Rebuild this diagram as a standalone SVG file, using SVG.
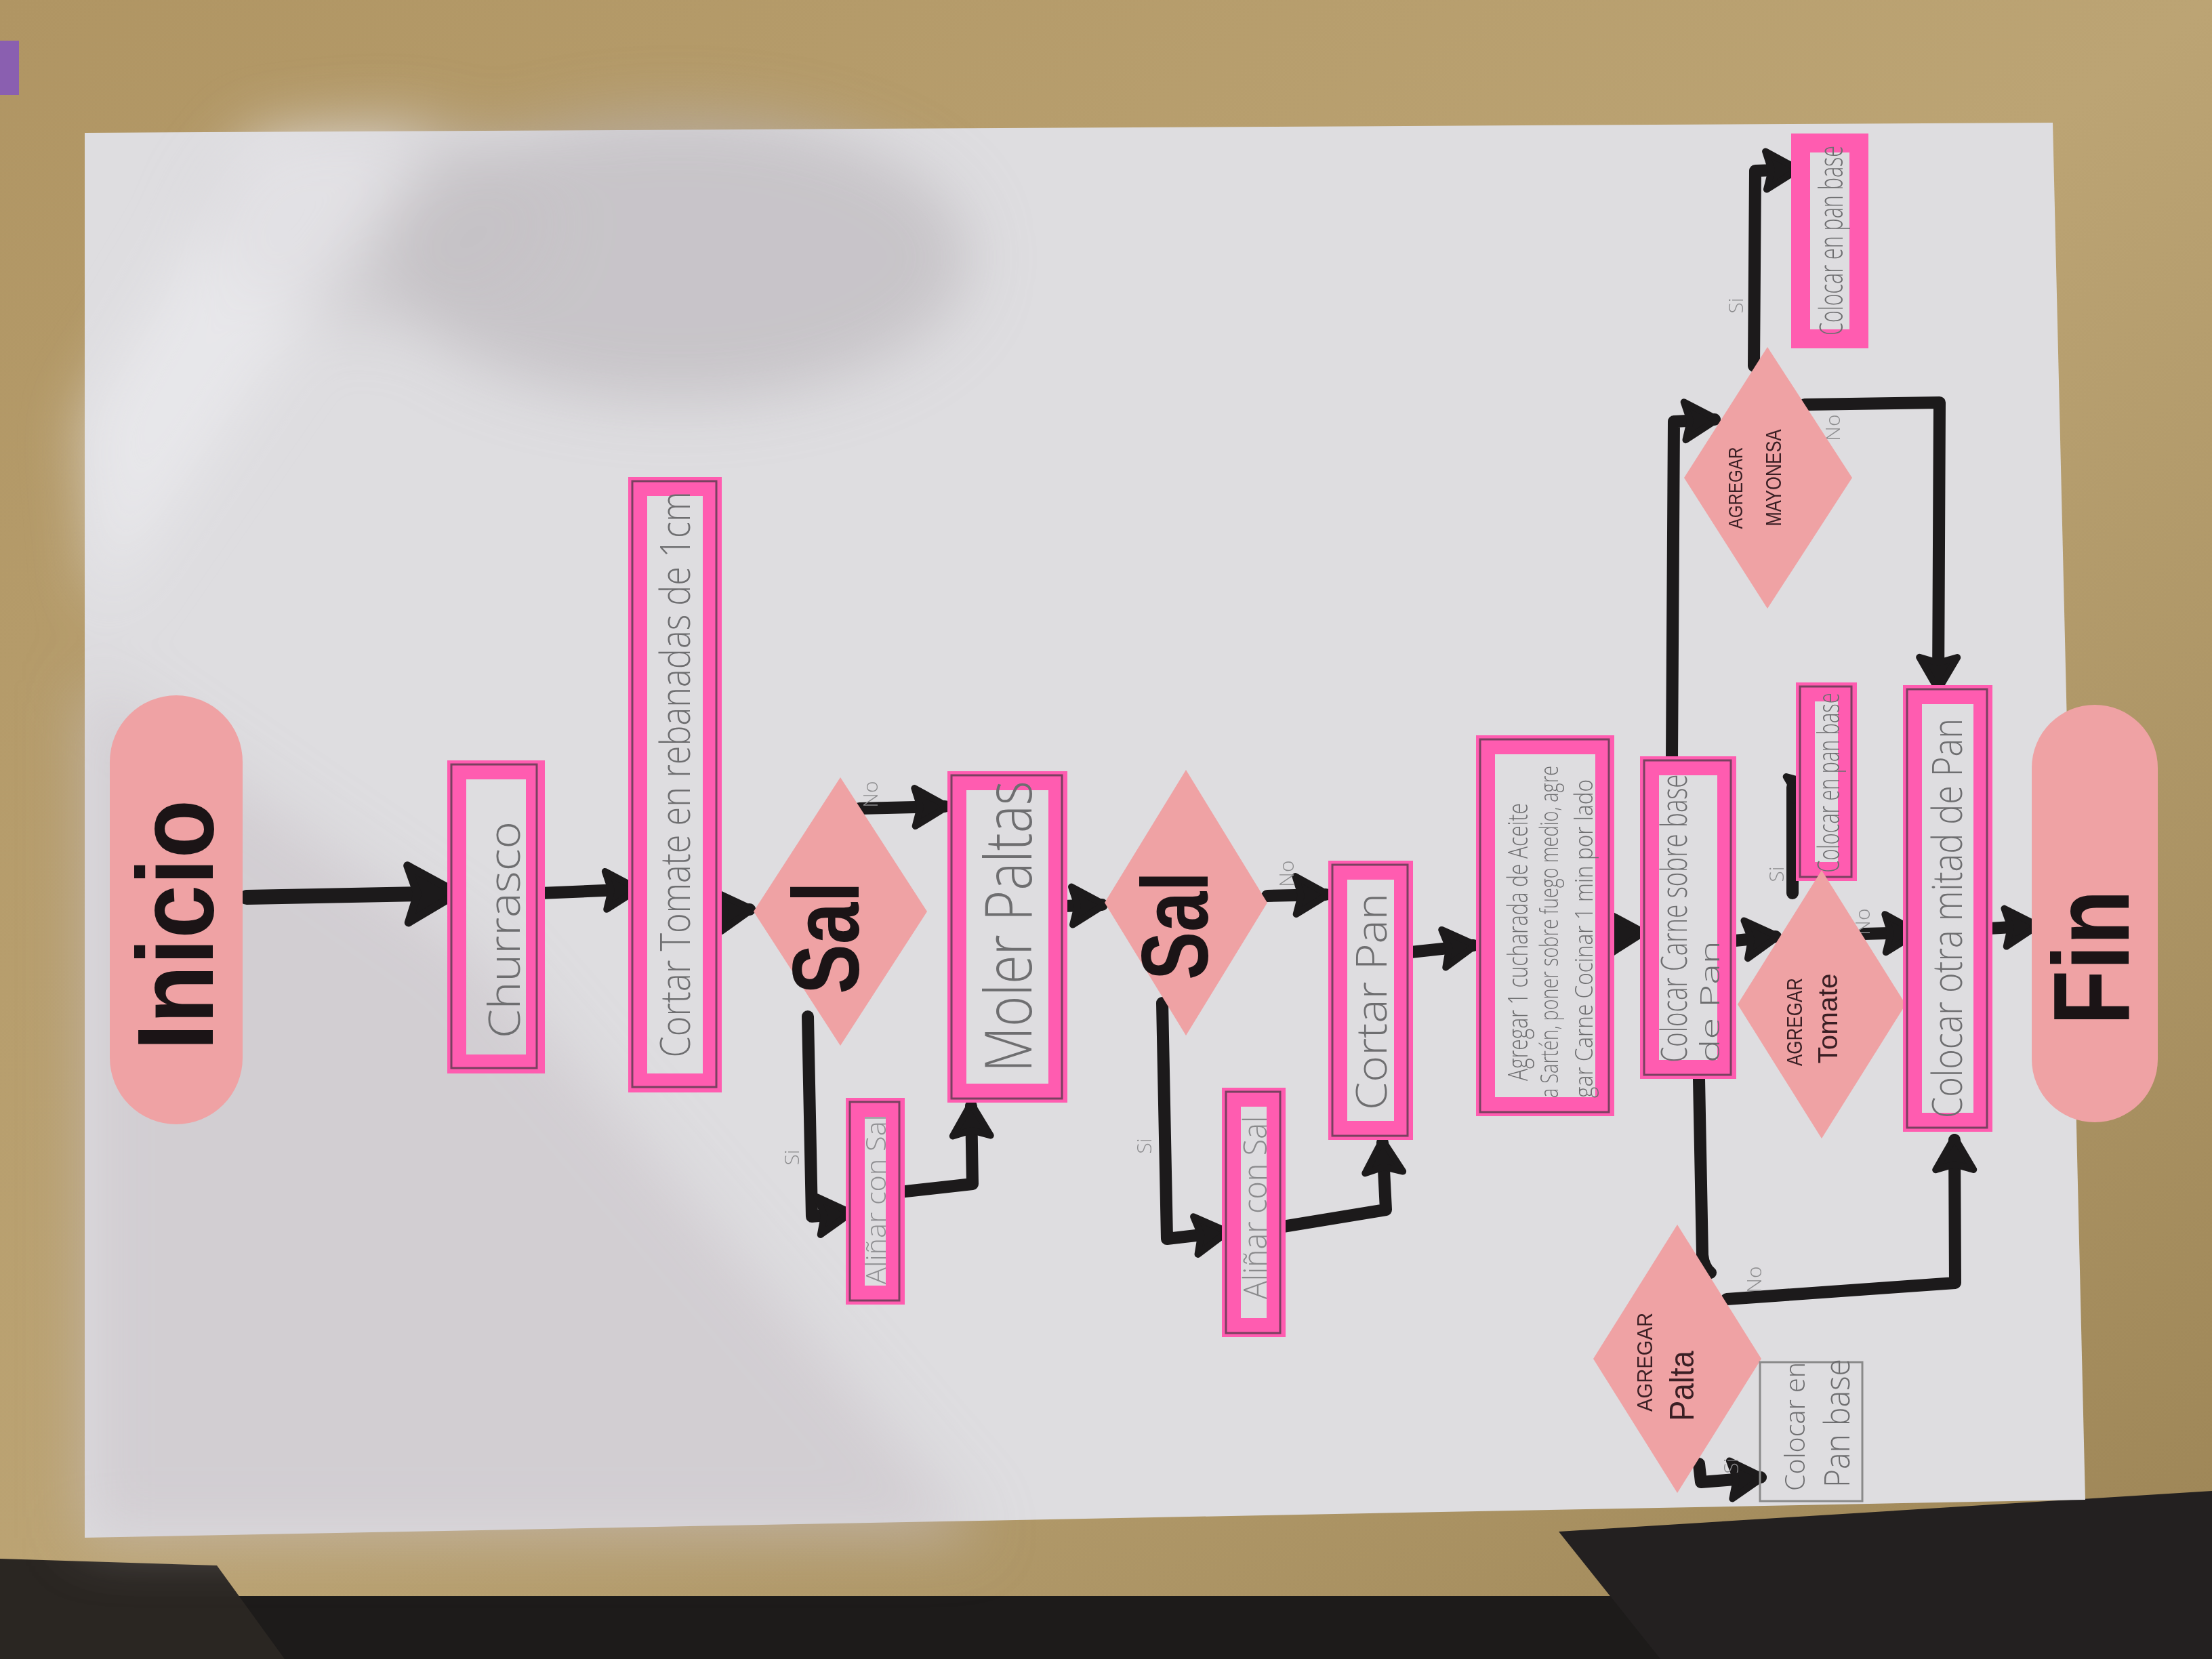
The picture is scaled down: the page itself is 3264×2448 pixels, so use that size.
<svg xmlns="http://www.w3.org/2000/svg" width="3264" height="2448" viewBox="0 0 3264 2448">
<defs>
<style>
.hl{fill:none;stroke:#ff5cb0;stroke-width:28;stroke-linejoin:miter}
.pen{fill:none;stroke:#7a4060;stroke-width:3}
.pbox{fill:none;stroke:#8a8a8a;stroke-width:3}
.pink{fill:#efa2a4}
.pt{font-family:"Open Sans","Liberation Sans",sans-serif;font-weight:300;fill:#6e6e70;text-anchor:middle;dominant-baseline:central}
.mk{font-family:"Liberation Sans",Arial,sans-serif;fill:#3a1f24;text-anchor:middle;dominant-baseline:central}
.big{font-family:"Liberation Sans",Arial,sans-serif;font-weight:bold;fill:#1b1416;text-anchor:middle;dominant-baseline:central}
.lbl{font-family:"Open Sans","Liberation Sans",sans-serif;font-weight:300;font-size:30px;fill:#8c8c8e;text-anchor:middle;dominant-baseline:central}
.c{fill:none;stroke:#1c1a1b;stroke-width:18;stroke-linecap:round;stroke-linejoin:round}
</style>
<marker id="ah" markerUnits="userSpaceOnUse" viewBox="-60 -40 70 80" markerWidth="70" markerHeight="80" refX="0" refY="0" orient="auto">
<path d="M4,0 L-44,-28 L-36,0 L-44,28 Z" fill="#1c1a1b" stroke="#1c1a1b" stroke-width="10" stroke-linejoin="round"/>
</marker>
<marker id="ahb" markerUnits="userSpaceOnUse" viewBox="-90 -60 100 120" markerWidth="100" markerHeight="120" refX="0" refY="0" orient="auto">
<path d="M4,0 L-70,-42 L-56,0 L-70,42 Z" fill="#1c1a1b" stroke="#1c1a1b" stroke-width="12" stroke-linejoin="round"/>
</marker>
<marker id="ahs" markerUnits="userSpaceOnUse" viewBox="-40 -30 50 60" markerWidth="50" markerHeight="60" refX="0" refY="0" orient="auto">
<path d="M4,0 L-24,-18 L-20,0 L-24,18 Z" fill="#1c1a1b" stroke="#1c1a1b" stroke-width="10" stroke-linejoin="round"/>
</marker>
<filter id="blur" x="-50%" y="-50%" width="200%" height="200%"><feGaussianBlur stdDeviation="45"/></filter>
<linearGradient id="wood" x1="0" y1="0" x2="1" y2="1">
<stop offset="0" stop-color="#b09563"/>
<stop offset="0.5" stop-color="#bca474"/>
<stop offset="1" stop-color="#9c8455"/>
</linearGradient>
</defs>

<!-- table background -->
<rect x="0" y="0" width="3264" height="2448" fill="url(#wood)"/>
<rect x="0" y="2355" width="3264" height="93" fill="#1d1b1a"/>
<polygon points="0,2300 320,2310 420,2448 0,2448" fill="#2a2622"/>
<polygon points="2300,2260 3264,2200 3264,2448 2450,2448" fill="#232020"/>
<rect x="0" y="60" width="28" height="80" fill="#8a5fb0"/>

<!-- paper -->
<polygon points="125,196 3029,181 3077,2213 125,2269" fill="#dedde0"/>
<g filter="url(#blur)">
<ellipse cx="1000" cy="380" rx="430" ry="210" fill="#b9b4b9" opacity="0.6"/>
<ellipse cx="560" cy="330" rx="260" ry="150" fill="#c3bfc3" opacity="0.5"/>
<polygon points="125,1000 700,1400 1450,2269 125,2269" fill="#c8c1c6" opacity="0.55"/>
<polygon points="380,196 640,196 150,900 125,620" fill="#efeff1" opacity="0.6"/>
</g>

<!-- connectors -->
<g id="connectors">
<path class="c" d="M364,1324 L672,1318" marker-end="url(#ahb)" style="stroke-width:22"/>
<path class="c" d="M797,1318 L938,1312" marker-end="url(#ah)"/>
<path class="c" d="M1062,1346 L1106,1342" marker-end="url(#ah)"/>
<path class="c" d="M1268,1193 L1394,1190" marker-end="url(#ah)"/>
<path class="c" d="M1192,1500 L1198,1795 L1252,1790" marker-end="url(#ah)"/>
<path class="c" d="M1318,1760 L1435,1747 L1433,1632" marker-end="url(#ah)"/>
<path class="c" d="M1570,1337 L1626,1335" marker-end="url(#ah)"/>
<path class="c" d="M1870,1322 L1956,1320" marker-end="url(#ah)"/>
<path class="c" d="M1715,1480 L1722,1828 L1808,1818" marker-end="url(#ah)"/>
<path class="c" d="M1893,1810 L2045,1785 L2040,1686" marker-end="url(#ah)"/>
<path class="c" d="M2082,1405 L2174,1395" marker-end="url(#ah)"/>
<path class="c" d="M2370,1378 L2422,1376" marker-end="url(#ah)"/>
<path class="c" d="M2560,1388 L2620,1382" marker-end="url(#ah)"/>
<path class="c" d="M2645,1318 L2645,1162 L2664,1156" marker-end="url(#ahs)"/>
<path class="c" d="M2750,1378 L2826,1376" marker-end="url(#ah)"/>
<path class="c" d="M2467,1118 L2470,622 L2530,619" marker-end="url(#ah)"/>
<path class="c" d="M2588,540 L2590,252 L2650,250" marker-end="url(#ah)"/>
<path class="c" d="M2663,597 L2862,594 L2860,1014" marker-end="url(#ah)"/>
<path class="c" d="M2507,1592 L2512,1852 Q2514,1870 2524,1878"/>
<path class="c" d="M2548,1917 L2885,1893 L2884,1682" marker-end="url(#ah)"/>
<path class="c" d="M2507,2160 L2510,2187 L2598,2180" marker-end="url(#ah)"/>
<path class="c" d="M2935,1370 L3003,1366" marker-end="url(#ah)"/>
</g>

<!-- labels -->
<g id="labels">
<text class="lbl" transform="rotate(-90 1283 1172)" x="1283" y="1172">No</text>
<text class="lbl" transform="rotate(-90 1167 1708)" x="1167" y="1708">Si</text>
<text class="lbl" transform="rotate(-90 1897 1289)" x="1897" y="1289">No</text>
<text class="lbl" transform="rotate(-90 1687 1691)" x="1687" y="1691">Si</text>
<text class="lbl" transform="rotate(-90 2620 1290)" x="2620" y="1290">Si</text>
<text class="lbl" transform="rotate(-90 2747 1360)" x="2747" y="1360">No</text>
<text class="lbl" transform="rotate(-90 2560 451)" x="2560" y="451">Si</text>
<text class="lbl" transform="rotate(-90 2703 631)" x="2703" y="631">No</text>
<text class="lbl" transform="rotate(-90 2587 1888)" x="2587" y="1888">No</text>
<text class="lbl" transform="rotate(-90 2553 2163)" x="2553" y="2163">Si</text>
</g>

<!-- nodes -->
<g id="inicio">
<rect class="pink" x="162" y="1026" width="196" height="633" rx="98" ry="98"/>
<text class="big" font-size="160" textLength="370" lengthAdjust="spacingAndGlyphs" transform="rotate(-90 258 1365)" x="258" y="1365">Inicio</text>
</g>

<g id="churrasco">
<rect class="hl" x="674" y="1136" width="116" height="434"/>
<rect class="pen" x="666" y="1128" width="126" height="448"/>
<text class="pt" font-size="64" textLength="320" lengthAdjust="spacingAndGlyphs" transform="rotate(-90 742 1372)" x="742" y="1372">Churrasco</text>
</g>

<g id="cortar-tomate">
<rect class="hl" x="941" y="718" width="110" height="880"/>
<rect class="pen" x="933" y="710" width="124" height="894"/>
<text class="pt" font-size="60" textLength="835" lengthAdjust="spacingAndGlyphs" transform="rotate(-90 995 1143)" x="995" y="1143">Cortar Tomate en rebanadas de 1cm</text>
</g>

<g id="sal-1">
<polygon class="pink" points="1240,1147 1368,1345 1240,1543 1112,1345"/>
<text class="big" font-size="140" textLength="166" lengthAdjust="spacingAndGlyphs" transform="rotate(-90 1218 1384)" x="1218" y="1384">Sal</text>
</g>

<g id="alinar-1">
<rect class="hl" x="1262" y="1634" width="59" height="277"/>
<rect class="pen" x="1254" y="1626" width="73" height="293"/>
<text class="pt" font-size="40" textLength="250" lengthAdjust="spacingAndGlyphs" transform="rotate(-90 1291 1770)" x="1291" y="1770" fill-opacity="0.7">Aliñar con Sal</text>
</g>

<g id="moler-paltas">
<rect class="hl" x="1412" y="1152" width="149" height="461"/>
<rect class="pen" x="1404" y="1144" width="163" height="477"/>
<text class="pt" font-size="95" textLength="430" lengthAdjust="spacingAndGlyphs" transform="rotate(-90 1485 1367)" x="1485" y="1367">Moler Paltas</text>
</g>

<g id="sal-2">
<polygon class="pink" points="1750,1136 1870,1332 1750,1528 1630,1332"/>
<text class="big" font-size="140" textLength="160" lengthAdjust="spacingAndGlyphs" transform="rotate(-90 1733 1366)" x="1733" y="1366">Sal</text>
</g>

<g id="alinar-2">
<rect class="hl" x="1817" y="1619" width="66" height="340"/>
<rect class="pen" x="1809" y="1611" width="80" height="356"/>
<text class="pt" font-size="48" textLength="270" lengthAdjust="spacingAndGlyphs" transform="rotate(-90 1850 1782)" x="1850" y="1782" fill-opacity="0.75">Aliñar con Sal</text>
</g>

<g id="cortar-pan">
<rect class="hl" x="1974" y="1284" width="97" height="384"/>
<rect class="pen" x="1966" y="1276" width="111" height="400"/>
<text class="pt" font-size="62" textLength="320" lengthAdjust="spacingAndGlyphs" transform="rotate(-90 2022 1478)" x="2022" y="1478">Cortar Pan</text>
</g>

<g id="aceite">
<rect class="hl" x="2192" y="1099" width="176" height="534"/>
<rect class="pen" x="2184" y="1091" width="190" height="550"/>
<text class="pt" font-size="40" textLength="410" lengthAdjust="spacingAndGlyphs" transform="rotate(-90 2238 1390)" x="2238" y="1390">Agregar 1 cucharada de Aceite</text>
<text class="pt" font-size="36" textLength="490" lengthAdjust="spacingAndGlyphs" transform="rotate(-90 2285 1375)" x="2285" y="1375">a Sartén, poner sobre fuego medio, agre</text>
<text class="pt" font-size="36" textLength="470" lengthAdjust="spacingAndGlyphs" transform="rotate(-90 2336 1385)" x="2336" y="1385">gar Carne Cocinar 1 min por lado</text>
</g>

<g id="colocar-carne">
<rect class="hl" x="2434" y="1130" width="114" height="448"/>
<rect class="pen" x="2426" y="1122" width="128" height="464"/>
<text class="pt" font-size="54" textLength="425" lengthAdjust="spacingAndGlyphs" transform="rotate(-90 2468 1355)" x="2468" y="1355">Colocar Carne sobre base</text>
<text class="pt" font-size="38" textLength="180" lengthAdjust="spacingAndGlyphs" transform="rotate(-90 2522 1478)" x="2522" y="1478">de Pan</text>
</g>

<g id="mayonesa">
<polygon class="pink" points="2608,512 2733,705 2608,898 2485,705"/>
<text class="mk" font-size="30" textLength="121" lengthAdjust="spacingAndGlyphs" transform="rotate(-90 2560 720)" x="2560" y="720">AGREGAR</text>
<text class="mk" font-size="32" textLength="143" lengthAdjust="spacingAndGlyphs" transform="rotate(-90 2617 705)" x="2617" y="705">MAYONESA</text>
</g>

<g id="pan-base-top">
<rect class="hl" x="2657" y="211" width="86" height="289"/>
<text class="pt" font-size="48" textLength="280" lengthAdjust="spacingAndGlyphs" transform="rotate(-90 2700 355)" x="2700" y="355">Colocar en pan base</text>
</g>

<g id="pan-base-mid">
<rect class="hl" x="2664" y="1021" width="62" height="265"/>
<rect class="pen" x="2656" y="1013" width="76" height="281"/>
<text class="pt" font-size="44" textLength="265" lengthAdjust="spacingAndGlyphs" transform="rotate(-90 2697 1155)" x="2697" y="1155">Colocar en pan base</text>
</g>

<g id="tomate">
<polygon class="pink" points="2688,1284 2812,1482 2688,1680 2564,1482"/>
<text class="mk" font-size="32" textLength="130" lengthAdjust="spacingAndGlyphs" transform="rotate(-90 2648 1508)" x="2648" y="1508">AGREGAR</text>
<text class="mk" font-size="40" textLength="133" lengthAdjust="spacingAndGlyphs" transform="rotate(-90 2697 1503)" x="2697" y="1503">Tomate</text>
</g>

<g id="otra-mitad">
<rect class="hl" x="2822" y="1025" width="104" height="631"/>
<rect class="pen" x="2814" y="1017" width="118" height="647"/>
<text class="pt" font-size="60" textLength="590" lengthAdjust="spacingAndGlyphs" transform="rotate(-90 2872 1355)" x="2872" y="1355">Colocar otra mitad de Pan</text>
</g>

<g id="palta">
<polygon class="pink" points="2475,1807 2599,2005 2475,2203 2351,2005"/>
<text class="mk" font-size="32" textLength="146" lengthAdjust="spacingAndGlyphs" transform="rotate(-90 2427 2010)" x="2427" y="2010">AGREGAR</text>
<text class="mk" font-size="50" textLength="104" lengthAdjust="spacingAndGlyphs" transform="rotate(-90 2482 2045)" x="2482" y="2045">Palta</text>
</g>

<g id="pan-base-bottom">
<rect class="pbox" x="2597" y="2010" width="151" height="205"/>
<text class="pt" font-size="40" textLength="190" lengthAdjust="spacingAndGlyphs" transform="rotate(-90 2647 2105)" x="2647" y="2105">Colocar en</text>
<text class="pt" font-size="52" textLength="190" lengthAdjust="spacingAndGlyphs" transform="rotate(-90 2708 2100)" x="2708" y="2100">Pan base</text>
</g>

<g id="fin">
<rect class="pink" x="2998" y="1040" width="186" height="616" rx="93" ry="93"/>
<text class="big" font-size="160" textLength="200" lengthAdjust="spacingAndGlyphs" transform="rotate(-90 3085 1413)" x="3085" y="1413">Fin</text>
</g>
</svg>
